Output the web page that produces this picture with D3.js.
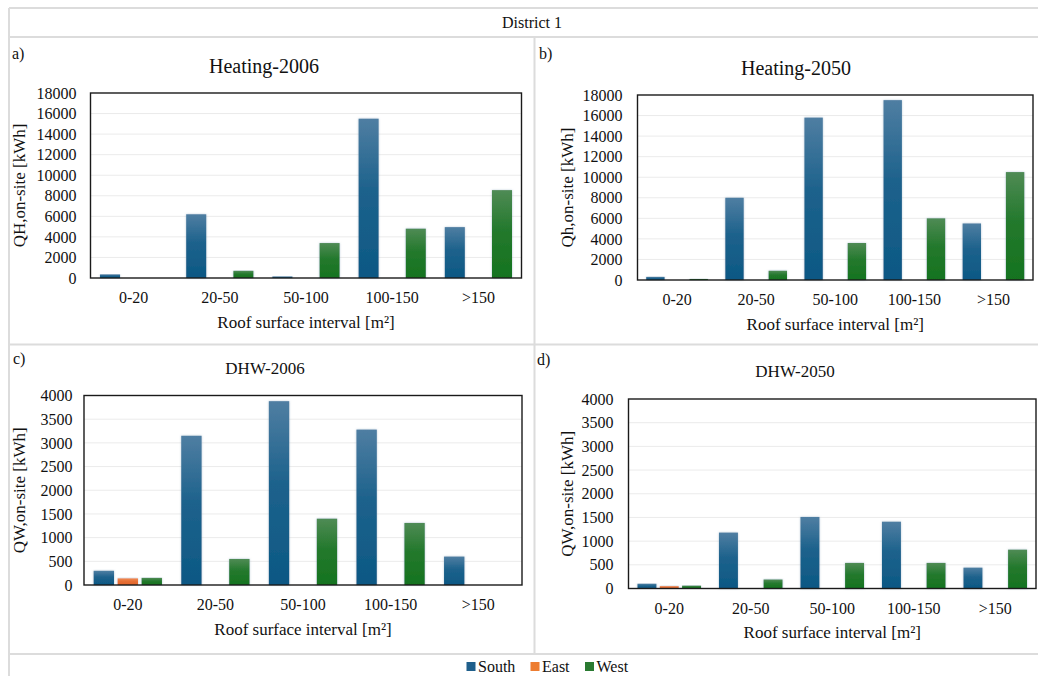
<!DOCTYPE html>
<html>
<head>
<meta charset="utf-8">
<script src="https://cdn.jsdelivr.net/npm/d3@7"></script>
<style>
  html, body { margin: 0; padding: 0; background: #fff; }
  svg { display: block; }
</style>
</head>
<body>
<svg id="chart" width="1038" height="676"></svg>
<script>
// ---------------- DATA ----------------
const categories = ["0-20", "20-50", "50-100", "100-150", ">150"];
const seriesNames = ["South", "East", "West"];

const heating2006South = [350, 6200, 150, 15500, 4950];
const heating2006East  = [0, 0, 0, 0, 0];
const heating2006West  = [0, 700, 3400, 4800, 8550];

const heating2050South = [300, 8000, 15800, 17500, 5500];
const heating2050East  = [0, 0, 0, 0, 0];
const heating2050West  = [100, 900, 3600, 6000, 10500];

const dhw2006South = [300, 3150, 3880, 3280, 600];
const dhw2006East  = [140, 0, 0, 0, 0];
const dhw2006West  = [150, 550, 1400, 1310, 0];

const dhw2050South = [100, 1180, 1510, 1410, 440];
const dhw2050East  = [50, 0, 0, 0, 0];
const dhw2050West  = [60, 190, 540, 540, 820];

const heatingTicks = [0, 2000, 4000, 6000, 8000, 10000, 12000, 14000, 16000, 18000];
const dhwTicks = [0, 500, 1000, 1500, 2000, 2500, 3000, 3500, 4000];

const panelLetters = ["a)", "b)", "c)", "d)"];
const panelTitles = ["Heating-2006", "Heating-2050", "DHW-2006", "DHW-2050"];
const yLabels = ["QH,on-site [kWh]", "Qh,on-site [kWh]", "QW,on-site [kWh]", "QW,on-site [kWh]"];
const xLabel = "Roof surface interval [m\u00B2]";
const headerText = "District 1";

// ---------------- LAYOUT ----------------
const SERIF = "'Liberation Serif', 'Times New Roman', Times, serif";
const svg = d3.select("#chart");
const defs = svg.append("defs");

function grad(id, top, bottom) {
  const g = defs.append("linearGradient").attr("id", id)
    .attr("x1", 0).attr("y1", 0).attr("x2", 0).attr("y2", 1);
  g.append("stop").attr("offset", "0%").attr("stop-color", top);
  g.append("stop").attr("offset", "45%").attr("stop-color", d3.interpolateRgb(top, bottom)(0.75));
  g.append("stop").attr("offset", "100%").attr("stop-color", bottom);
}
grad("gSouth", "#4f7ea2", "#0c5884");
grad("gEast", "#f08b52", "#e2652a");
grad("gWest", "#4f8b55", "#15731f");
const fillFor = { South: "url(#gSouth)", East: "url(#gEast)", West: "url(#gWest)" };
const legendColor = { South: "#1f5f8b", East: "#ed7d31", West: "#2a7a31" };

const glow = defs.append("filter").attr("id", "glow")
  .attr("x", "-30%").attr("y", "-10%").attr("width", "160%").attr("height", "120%");
glow.append("feDropShadow").attr("dx", 0).attr("dy", 0).attr("stdDeviation", 1.2)
  .attr("flood-color", "#7f9fb8").attr("flood-opacity", 0.55);

// Frame (table lines)
const frame = svg.append("g").attr("stroke", "#dcdcdc").attr("stroke-width", 2).attr("fill", "none");
frame.append("line").attr("x1", 9).attr("x2", 1038).attr("y1", 8).attr("y2", 8);
frame.append("line").attr("x1", 9).attr("x2", 1038).attr("y1", 37).attr("y2", 37);
frame.append("line").attr("x1", 9).attr("x2", 9).attr("y1", 8).attr("y2", 676);
frame.append("line").attr("x1", 534.5).attr("x2", 534.5).attr("y1", 37).attr("y2", 654);
frame.append("line").attr("x1", 9).attr("x2", 1038).attr("y1", 344.5).attr("y2", 344.5);
frame.append("line").attr("x1", 9).attr("x2", 1038).attr("y1", 654).attr("y2", 654);

svg.append("text").attr("x", 532).attr("y", 22).attr("text-anchor", "middle")
  .attr("dominant-baseline", "central").attr("font-size", 16).attr("fill", "#111").text(headerText);

const panels = [
  { data: [heating2006South, heating2006East, heating2006West], ticks: heatingTicks,
    plot: { x0: 90.5, x1: 521.5, y0: 93, y1: 278 }, title: { x: 264, y: 66, size: 20 },
    letter: { x: 12, y: 53 }, yl: 19, tickGap: 14 },
  { data: [heating2050South, heating2050East, heating2050West], ticks: heatingTicks,
    plot: { x0: 637.5, x1: 1033, y0: 95, y1: 280 }, title: { x: 796, y: 67.5, size: 20 },
    letter: { x: 539, y: 53 }, yl: 567, tickGap: 15 },
  { data: [dhw2006South, dhw2006East, dhw2006West], ticks: dhwTicks,
    plot: { x0: 84, x1: 522, y0: 395.5, y1: 585 }, title: { x: 265, y: 368, size: 17 },
    letter: { x: 13, y: 358 }, yl: 19, tickGap: 11.5 },
  { data: [dhw2050South, dhw2050East, dhw2050West], ticks: dhwTicks,
    plot: { x0: 628.5, x1: 1036, y0: 399, y1: 588.5 }, title: { x: 795, y: 371.5, size: 17 },
    letter: { x: 537, y: 359 }, yl: 567, tickGap: 15 }
];

panels.forEach((p, i) => {
  const g = svg.append("g");
  const P = p.plot;
  const x0 = d3.scaleBand().domain(categories).range([P.x0, P.x1]).paddingInner(0).paddingOuter(0);
  const bw = x0.bandwidth();
  const outer = bw * 0.11;
  const x1 = d3.scaleBand().domain(seriesNames).range([outer, bw - outer]).paddingInner(0.15).paddingOuter(0);
  const y = d3.scaleLinear().domain([0, d3.max(p.ticks)]).range([P.y1, P.y0]);

  // gridlines
  g.append("g").selectAll("line").data(p.ticks.slice(1, -1)).join("line")
    .attr("x1", P.x0).attr("x2", P.x1)
    .attr("y1", d => y(d)).attr("y2", d => y(d))
    .attr("stroke", "#ebebeb").attr("stroke-width", 1);

  // bars
  const rows = [];
  seriesNames.forEach((s, si) => {
    categories.forEach((c, ci) => {
      const v = p.data[si][ci];
      if (v > 0) rows.push({ s, c, v });
    });
  });
  g.append("g").selectAll("rect").data(rows).join("rect")
    .attr("x", d => x0(d.c) + x1(d.s))
    .attr("width", x1.bandwidth())
    .attr("y", d => y(d.v))
    .attr("height", d => y(0) - y(d.v))
    .attr("fill", d => fillFor[d.s])
    .attr("filter", "url(#glow)");

  // plot border
  g.append("rect").attr("x", P.x0).attr("y", P.y0)
    .attr("width", P.x1 - P.x0).attr("height", P.y1 - P.y0)
    .attr("fill", "none").attr("stroke", "#1a1a1a").attr("stroke-width", 1.4);

  // y axis
  const ya = g.append("g").attr("transform", `translate(${P.x0},0)`)
    .call(d3.axisLeft(y).tickValues(p.ticks).tickSize(0).tickPadding(p.tickGap).tickFormat(d3.format("d")));
  ya.attr("font-size", 16);
  ya.select(".domain").remove();
  ya.selectAll("text").attr("fill", "#111");

  // x axis
  const xa = g.append("g").attr("transform", `translate(0,${P.y1})`)
    .call(d3.axisBottom(x0).tickSize(0).tickPadding(14));
  xa.attr("font-size", 16);
  xa.select(".domain").remove();
  xa.selectAll("text").attr("fill", "#111");

  // x axis title
  g.append("text").attr("x", (P.x0 + P.x1) / 2).attr("y", P.y1 + 44)
    .attr("text-anchor", "middle").attr("dominant-baseline", "central")
    .attr("font-size", 17).attr("fill", "#111").text(xLabel);

  // y axis title
  g.append("text").attr("transform", `translate(${p.yl},${(P.y0 + P.y1) / 2}) rotate(-90)`)
    .attr("text-anchor", "middle").attr("dominant-baseline", "central")
    .attr("font-size", 17).attr("fill", "#111").text(yLabels[i]);

  // title
  g.append("text").attr("x", p.title.x).attr("y", p.title.y)
    .attr("text-anchor", "middle").attr("dominant-baseline", "central")
    .attr("font-size", p.title.size).attr("fill", "#111").text(panelTitles[i]);

  // letter
  g.append("text").attr("x", p.letter.x).attr("y", p.letter.y)
    .attr("dominant-baseline", "central")
    .attr("font-size", 16).attr("fill", "#111").text(panelLetters[i]);
});

// legend
const legendX = { South: 466.5, East: 530.5, West: 585 };
const lg = svg.append("g");
seriesNames.forEach(s => {
  lg.append("rect").attr("x", legendX[s]).attr("y", 662).attr("width", 9).attr("height", 9)
    .attr("fill", legendColor[s]);
  lg.append("text").attr("x", legendX[s] + 11.5).attr("y", 666.5)
    .attr("dominant-baseline", "central").attr("font-size", 16).attr("fill", "#111").text(s);
});

// force serif font on every text element
svg.selectAll("g").attr("font-family", null);
svg.selectAll("text").style("font-family", SERIF);
</script>
</body>
</html>
